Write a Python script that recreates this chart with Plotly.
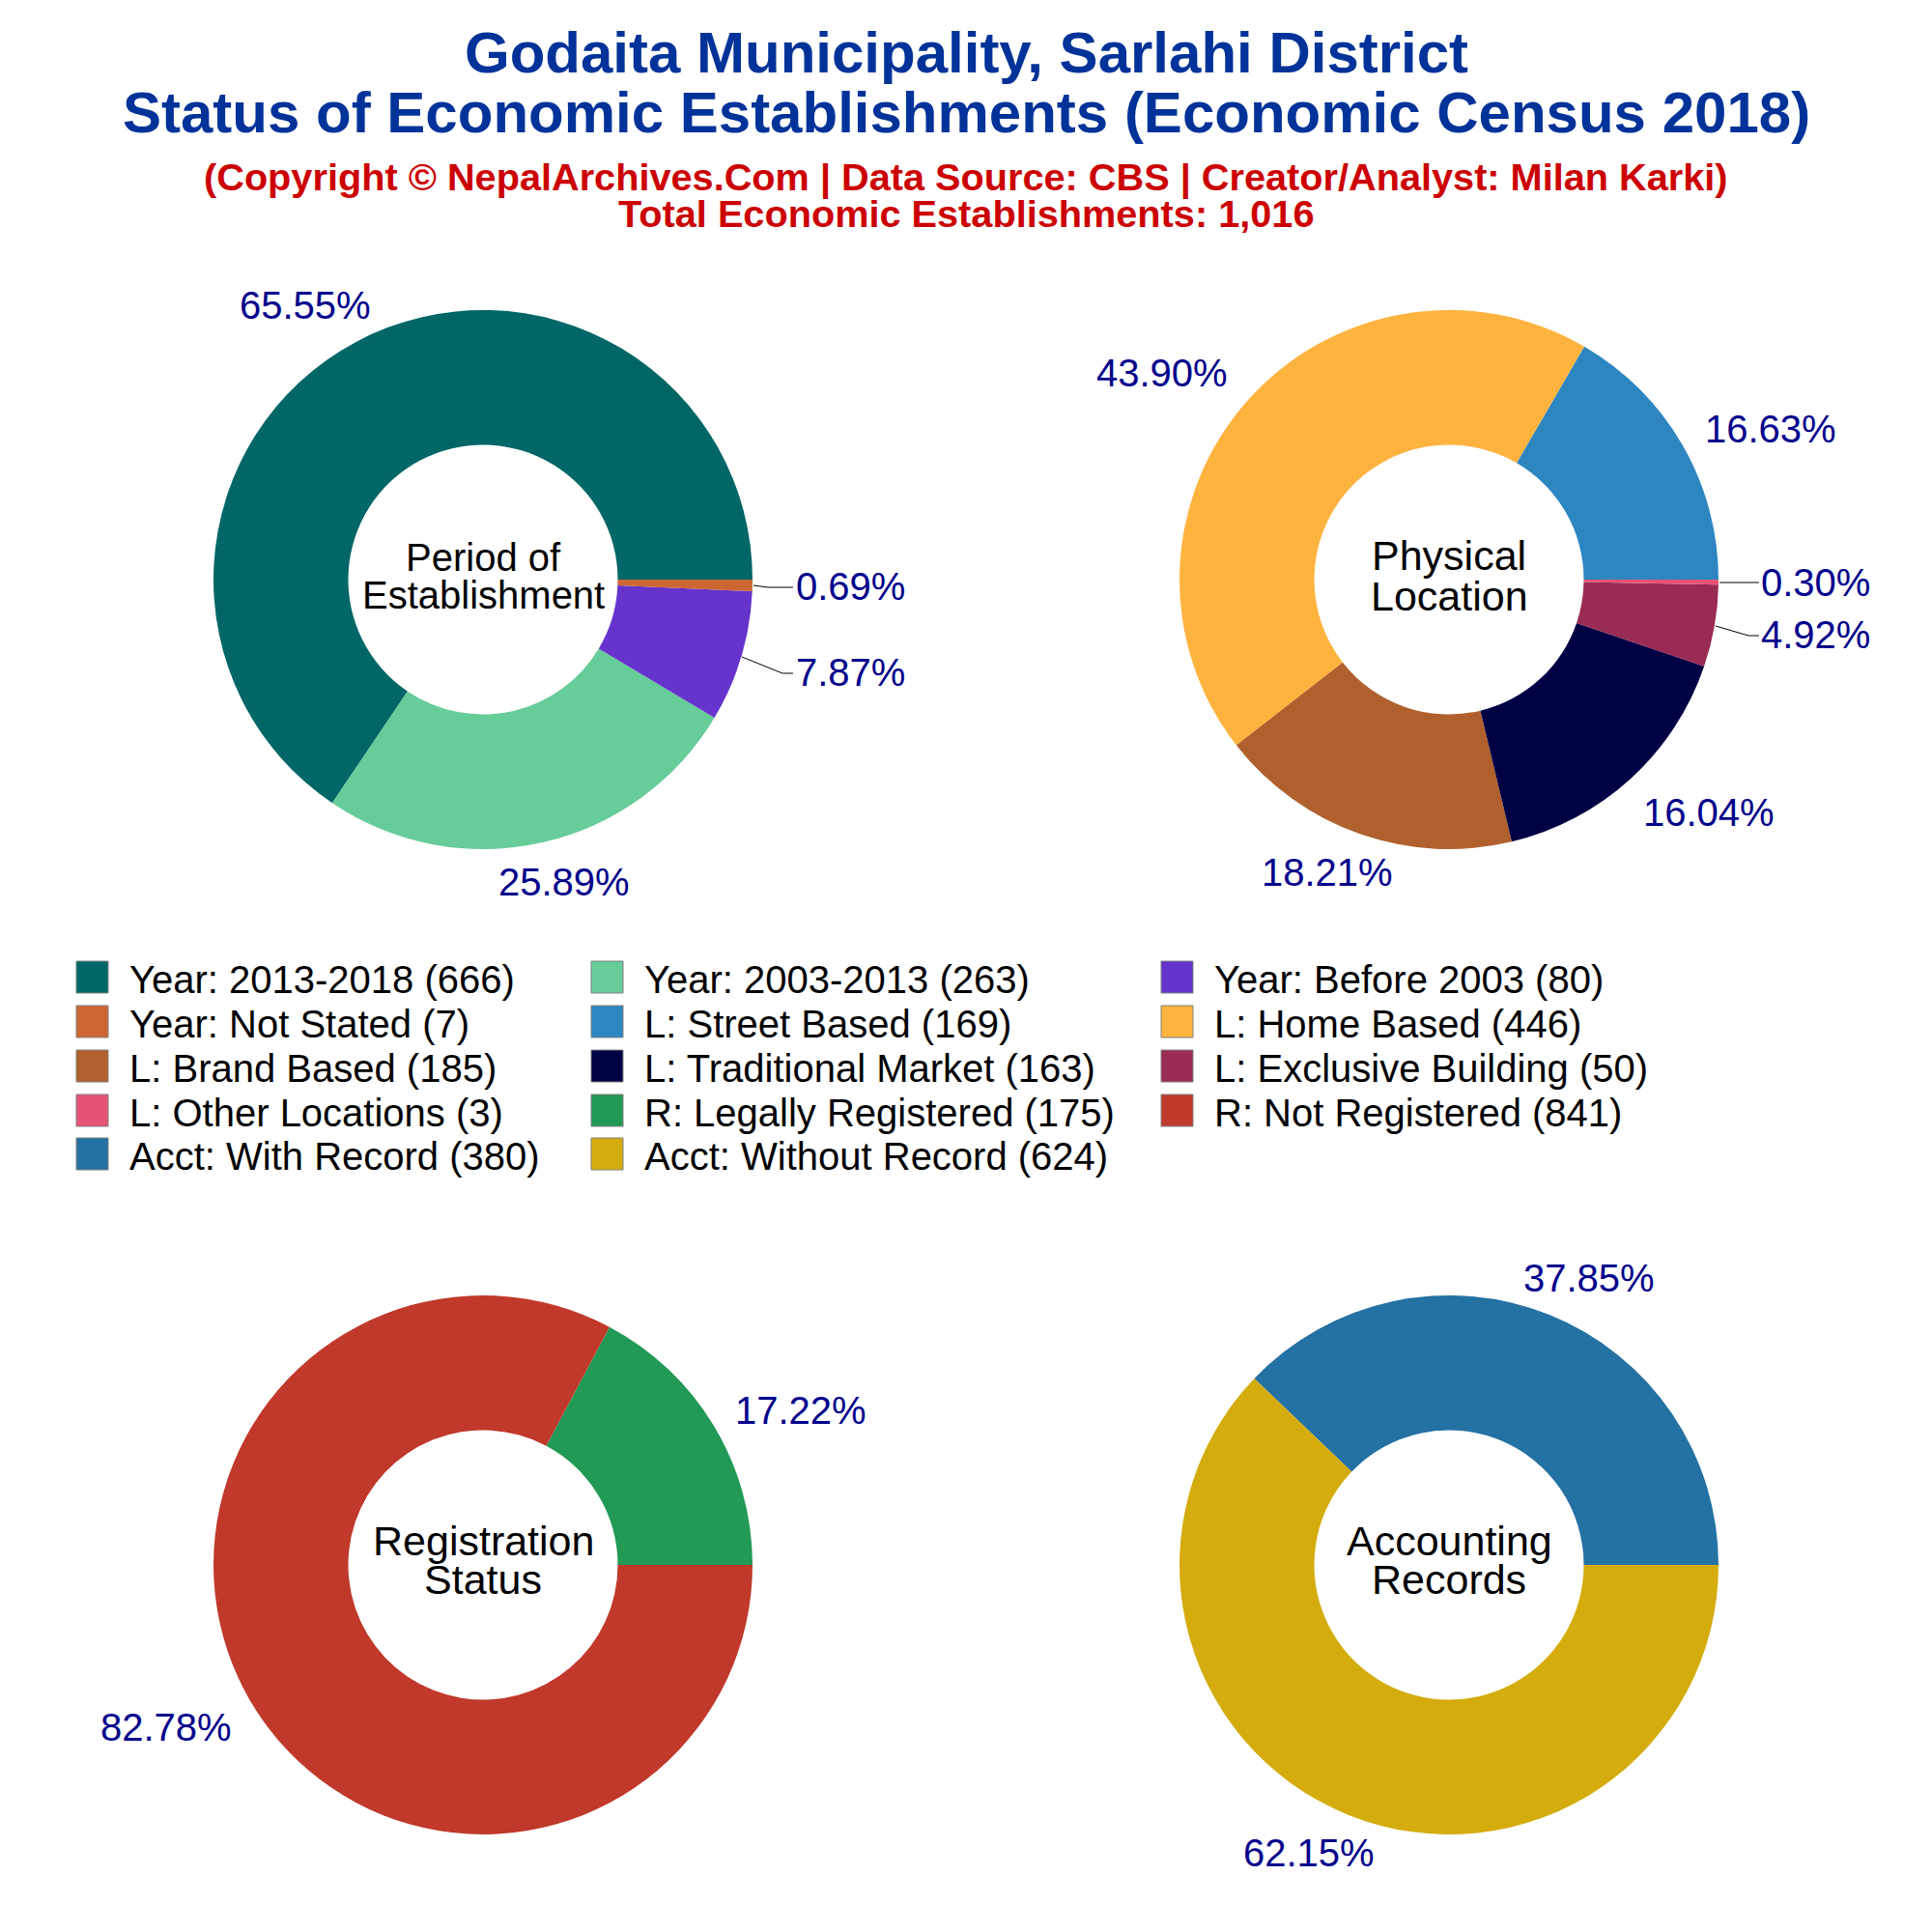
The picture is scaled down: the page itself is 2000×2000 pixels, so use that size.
import plotly.graph_objects as go

W = H = 2000
FONT = "Liberation Sans"
OFFSET = 8  # page body margin

period_labels = ["Year: 2013-2018", "Year: 2003-2013", "Year: Before 2003", "Year: Not Stated"]
period_values = [666, 263, 80, 7]
period_colors = ["#006666", "#66CC99", "#6633CC", "#CC6633"]
period_text_at = [(316, 316, "center"), (584, 913, "center"), (822, 696, "left"), (822, 607, "left")]

location_labels = ["L: Street Based", "L: Home Based", "L: Brand Based", "L: Traditional Market", "L: Exclusive Building", "L: Other Locations"]
location_values = [169, 446, 185, 163, 50, 3]
location_colors = ["#2E86C1", "#FFB33F", "#B0602C", "#000044", "#992B55", "#E75374"]
location_text_at = [(1833, 444, "center"), (1203, 386, "center"), (1374, 903, "center"), (1769, 841, "center"),
                    (1821, 657, "left"), (1821, 603, "left")]

registration_labels = ["R: Legally Registered", "R: Not Registered"]
registration_values = [175, 841]
registration_colors = ["#229954", "#C0392B"]
registration_text_at = [(829, 1460, "center"), (172, 1788, "center")]

accounting_labels = ["Acct: With Record", "Acct: Without Record"]
accounting_values = [380, 624]
accounting_colors = ["#2471A3", "#D4AC0D"]
accounting_text_at = [(1645, 1323, "center"), (1355, 1918, "center")]

leader_lines = [
    [(780, 606), (795, 608), (821, 608)],
    [(768, 680), (810, 697), (821, 697)],
    [(1780, 603), (1821, 603)],
    [(1776, 648), (1810, 658), (1821, 658)],
]

R = 279
pies = [
    (period_labels, period_values, period_colors, period_text_at, 500, 600),
    (location_labels, location_values, location_colors, location_text_at, 1500, 600),
    (registration_labels, registration_values, registration_colors, registration_text_at, 500, 1620),
    (accounting_labels, accounting_values, accounting_colors, accounting_text_at, 1500, 1620),
]

def px(x):
    return (x - OFFSET) / W

def py(y):
    return 1 - (y - OFFSET) / H

annotations = []

def text(x, y, s, size, color="#000000", anchor="center"):
    annotations.append(dict(xref="paper", yref="paper", x=px(x), y=py(y), text=s, showarrow=False,
                            xanchor=anchor, yanchor="middle",
                            font=dict(family=FONT, size=size, color=color)))

fig = go.Figure()
for labels, values, colors, text_at, cx, cy in pies:
    # plotly's counterclockwise layout ends the first slice at `rotation`; make it start at 3 o'clock.
    rot = 90 - 360 * values[0] / sum(values)
    fig.add_trace(go.Pie(
        labels=labels, values=values, sort=False, direction="counterclockwise", rotation=rot,
        hole=0.5, marker=dict(colors=colors, line=dict(width=0)),
        textinfo="none",
        domain=dict(x=[px(cx - R), px(cx + R)], y=[py(cy + R), py(cy - R)]),
        showlegend=False, hoverinfo="label+value+percent",
    ))
    total = sum(values)
    for v, (tx, ty, anchor) in zip(values, text_at):
        text(tx, ty, f"{v / total:.2%}", 40, "#00008B", anchor)

TITLE = "#003399"
RED = "#CC0000"
text(1000, 55, "<b>Godaita Municipality, Sarlahi District</b>", 60, TITLE)
text(1000, 116, "<b>Status of Economic Establishments (Economic Census 2018)</b>", 60, TITLE)
text(1000, 183, "<b>(Copyright © NepalArchives.Com | Data Source: CBS | Creator/Analyst: Milan Karki)</b>", 39.7, RED)
text(1000, 221, "<b>Total Economic Establishments: 1,016</b>", 39.7, RED)

centre_titles = [
    (500, 577, "Period of", 40), (500, 616, "Establishment", 40),
    (1500, 575, "Physical", 43), (1500, 617, "Location", 43),
    (500, 1595, "Registration", 43), (500, 1635, "Status", 43),
    (1500, 1595, "Accounting", 43), (1500, 1635, "Records", 43),
]
for x, y, s, size in centre_titles:
    text(x, y, s, size)

legend_order = [
    ("Year: 2013-2018", 666, "#006666"), ("Year: 2003-2013", 263, "#66CC99"), ("Year: Before 2003", 80, "#6633CC"),
    ("Year: Not Stated", 7, "#CC6633"), ("L: Street Based", 169, "#2E86C1"), ("L: Home Based", 446, "#FFB33F"),
    ("L: Brand Based", 185, "#B0602C"), ("L: Traditional Market", 163, "#000044"), ("L: Exclusive Building", 50, "#992B55"),
    ("L: Other Locations", 3, "#E75374"), ("R: Legally Registered", 175, "#229954"), ("R: Not Registered", 841, "#C0392B"),
    ("Acct: With Record", 380, "#2471A3"), ("Acct: Without Record", 624, "#D4AC0D"),
]
col_x = [79, 612, 1202]
row_y = [995, 1041, 1087, 1133, 1178]
shapes = []
for i, (name, val, col) in enumerate(legend_order):
    x0 = col_x[i % 3]
    y0 = row_y[i // 3]
    shapes.append(dict(type="rect", xref="paper", yref="paper", x0=px(x0), x1=px(x0 + 33), y0=py(y0), y1=py(y0 + 33),
                       fillcolor=col, line=dict(color="#808080", width=1)))
    text(x0 + 53, y0 + 18.5, f"{name} ({val})", 40, "#000000", "left")

for pts in leader_lines:
    path = "M " + " L ".join(f"{px(x)} {py(y)}" for x, y in pts)
    shapes.append(dict(type="path", xref="paper", yref="paper", path=path, line=dict(color="#000000", width=1)))

fig.update_layout(width=W, height=H, margin=dict(l=0, r=0, t=0, b=0), paper_bgcolor="white", plot_bgcolor="white",
                  annotations=annotations, shapes=shapes, showlegend=False)
fig.write_html("out.html")
